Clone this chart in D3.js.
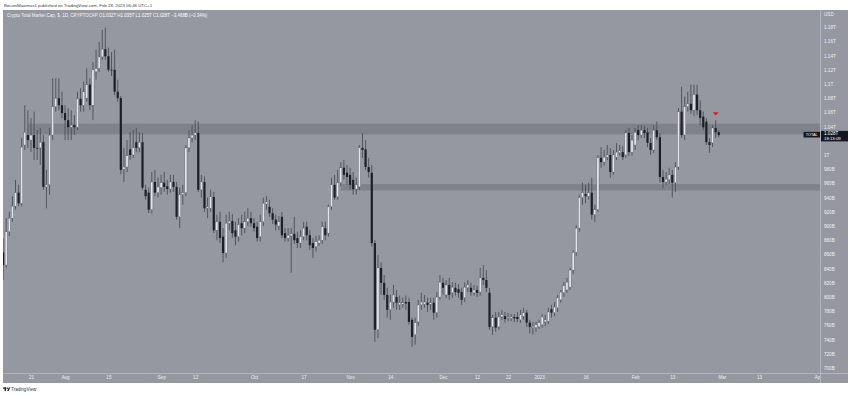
<!DOCTYPE html>
<html><head><meta charset="utf-8">
<script src="https://cdn.jsdelivr.net/npm/d3@7"></script>
<style>html,body{margin:0;padding:0;background:#fff;}svg{display:block;font-family:"Liberation Sans",Arial,sans-serif;}</style>
</head><body><svg id="c" width="850" height="396"></svg>
<script>
// ---- data (billions USD), daily candles from 2022-07-12 ----
const startDate = "2022-07-12";
const opens = [
863,845,892,911,928,947,932,1014,1028,1021,
1028,1010,1010,1018,955,958,1028,1068,1080,1070,
1059,1049,1039,1042,1039,1079,1070,1080,1099,1070,
1117,1122,1138,1149,1139,1120,1120,1089,1080,980,
983,1008,1000,1018,1010,1018,951,947,923,962,
947,954,961,956,952,962,955,913,944,947,
1010,1024,1028,1031,951,962,925,925,941,894,
906,885,862,904,907,894,885,904,897,906,
911,904,899,885,906,931,927,918,909,900,
913,890,883,886,889,883,876,885,899,887,
876,871,876,880,897,890,927,958,941,961,
982,975,972,965,952,955,1010,1008,983,975,
876,754,841,820,803,782,793,800,789,790,
793,793,768,747,765,789,790,792,790,792,
778,800,820,803,817,806,813,811,807,799,
813,813,806,810,807,827,824,806,758,771,
758,772,773,771,770,772,772,768,773,778,
764,757,757,758,761,765,766,783,778,785,
796,806,810,814,838,863,897,940,945,942,
947,916,923,996,990,997,1000,976,997,1003,
1004,1000,1031,1004,1014,1035,1028,1035,1032,1017,
1007,1035,1025,969,962,965,972,961,983,1061,
1028,1068,1072,1063,1085,1063,1054,1047,1018,1017,
1038,1032];
const highs = [
883,911,920,942,965,958,1024,1070,1063,1052,
1061,1035,1038,1028,979,1038,1108,1108,1108,1089,
1070,1066,1063,1056,1089,1094,1103,1122,1108,1131,
1148,1159,1176,1179,1151,1145,1148,1106,1083,1010,
1021,1032,1035,1038,1032,1031,958,954,976,979,
968,972,976,965,972,972,962,954,958,1014,
1035,1042,1049,1047,972,970,940,951,948,916,
920,897,916,920,917,906,911,916,920,925,
920,911,906,916,940,942,937,925,916,914,
920,897,897,897,913,892,894,906,906,894,
883,886,887,906,906,930,968,972,979,990,
993,986,982,976,968,1014,1031,1021,996,986,
880,859,849,831,813,803,817,810,802,799,
802,799,771,771,796,806,803,799,799,799,
807,831,827,824,827,821,820,818,813,821,
824,820,817,816,841,845,838,813,775,779,
779,782,779,778,776,776,779,782,785,782,
768,765,765,768,776,775,785,789,793,803,
810,821,827,841,866,901,944,961,958,961,
968,930,1000,1011,1007,1014,1010,1007,1017,1014,
1013,1035,1038,1028,1038,1042,1042,1041,1038,1024,
1042,1047,1031,979,976,982,979,990,1066,1096,
1082,1089,1099,1099,1099,1077,1061,1052,1024,1042,
1049,1035];
const lows = [
824,841,886,906,923,928,928,1007,1010,1004,
993,993,986,951,925,944,1021,1061,1063,1052,
1021,1021,1021,1028,1035,1061,1061,1075,1063,1049,
1106,1117,1134,1134,1117,1111,1084,1075,973,962,
976,993,996,1004,1004,951,937,918,918,942,
940,944,948,944,947,948,909,897,930,942,
1004,1018,1021,948,940,920,911,920,890,880,
876,849,855,894,883,873,878,887,890,900,
899,892,878,878,900,923,913,903,894,894,
883,878,878,834,875,869,869,880,880,866,
855,864,872,875,880,885,923,937,937,956,
965,958,951,944,944,951,996,979,968,871,
737,742,803,796,771,768,785,782,782,785,
782,761,730,733,759,782,785,779,782,768,
771,796,803,799,796,799,802,799,789,793,
807,802,802,800,802,817,807,754,747,751,
754,768,764,766,766,765,765,764,768,758,
749,747,751,755,757,759,762,771,773,779,
792,800,806,810,832,858,892,930,932,937,
909,906,920,982,985,993,968,972,993,999,
993,996,999,999,1007,1021,1024,1024,1011,1000,
1003,1021,961,953,958,959,940,948,979,1024,
1021,1061,1058,1055,1056,1042,1035,1014,1003,1011,
1024,1025];
const closes = [
845,892,911,928,947,932,1011,1032,1021,1028,
1010,1009,1018,955,958,1028,1068,1080,1070,1059,
1049,1039,1042,1039,1079,1070,1089,1099,1070,1120,
1122,1138,1149,1139,1120,1119,1089,1080,979,983,
999,1000,1010,1010,1018,954,942,923,962,947,
955,961,955,952,962,955,913,944,947,1010,
1024,1028,1031,951,962,925,927,941,894,906,
883,862,904,907,890,885,902,897,906,911,
904,897,883,906,932,934,918,909,902,906,
887,883,887,889,880,876,885,897,887,873,
869,878,880,899,887,927,958,940,961,982,
972,969,958,952,958,1010,1007,983,976,876,
754,841,820,803,782,793,803,792,792,792,
791,765,744,764,789,793,793,789,792,778,
800,821,813,817,803,814,807,806,796,814,
817,807,810,806,827,824,813,758,771,757,
772,775,769,772,772,770,769,775,778,764,
758,759,761,764,772,768,779,778,786,799,
807,816,821,838,863,897,940,947,942,947,
916,923,996,990,997,1000,976,1000,1004,1006,
997,1031,1004,1021,1032,1028,1035,1031,1017,1007,
1035,1025,969,962,966,972,961,983,1061,1028,
1068,1072,1063,1085,1063,1052,1039,1018,1014,1038,
1032,1028];

const timeTickDates = ["2022-07-21","2022-08-01","2022-08-15","2022-09-01","2022-09-12","2022-10-01","2022-10-17","2022-11-01","2022-11-14","2022-12-01","2022-12-12","2022-12-22","2023-01-01","2023-01-16","2023-02-01","2023-02-13","2023-03-01","2023-03-13","2023-04-01"];
const timeTickLabels = ["21","Aug","15","Sep","12","Oct","17","Nov","14","Dec","12","22","2023","16","Feb","13","Mar","13","Apr"];
const priceTicks = [700,720,740,760,780,800,820,840,860,880,900,920,940,960,980,1000,1040,1060,1080,1100,1120,1140,1160,1180];
const zoneStarts = ["2022-07-20","2022-10-29"];
const zoneLows = [1029,950];
const zoneHighs = [1044,959];
const markerDates = ["2023-02-27"];
const markerPrices = [1058];
const lastPriceText = "1.028T";
const countdownText = "18:13:09";
const headerText = "BitcoinMaximus1 published on TradingView.com, Feb 28, 2023 06:46 UTC+1";
const legendText = "Crypto Total Market Cap, $, 1D, CRYPTOCAP";
const ohlcLabels = ["O","H","L","C"];
const ohlcValues = ["1.032T","1.035T","1.025T","1.028T"];
const changeText = "\u22123.468B (\u22120.34%)";

// ---- layout ----
const svg = d3.select("#c");
const pane = {x0:3, x1:820, y0:10, y1:373};
const parse = d3.utcParse("%Y-%m-%d");
const start = parse(startDate);
const dates = opens.map((_, i) => d3.utcDay.offset(start, i));

const x = d3.scaleUtc().domain([start, parse("2023-04-01")]).range([3.1, 817.9]);
const y = d3.scaleLinear().domain([700, 1180]).range([368.1, 27.1]);

// background
svg.append("rect").attr("x",3).attr("y",10).attr("width",845).attr("height",373).attr("fill","#9598a1");

const defs = svg.append("defs");
defs.append("clipPath").attr("id","plot").append("rect")
  .attr("x",pane.x0).attr("y",pane.y0).attr("width",pane.x1-pane.x0).attr("height",pane.y1-pane.y0);
defs.append("clipPath").attr("id","taxis").append("rect")
  .attr("x",pane.x0).attr("y",pane.y1).attr("width",pane.x1-pane.x0).attr("height",12);

const plot = svg.append("g").attr("clip-path","url(#plot)");

// zones
plot.selectAll("rect.zone").data(zoneStarts).join("rect").attr("class","zone")
  .attr("x", d => x(parse(d)))
  .attr("width", d => pane.x1 - x(parse(d)))
  .attr("y", (d,i) => y(zoneHighs[i]))
  .attr("height", (d,i) => y(zoneLows[i]) - y(zoneHighs[i]))
  .attr("fill","#7f828b");

// candles
const candles = plot.selectAll("g.c").data(dates).join("g").attr("class","c");
candles.append("line")
  .attr("x1", d => x(d)).attr("x2", d => x(d))
  .attr("y1", (d,i) => y(highs[i])).attr("y2", (d,i) => y(lows[i]))
  .attr("stroke","#4b4e58").attr("stroke-width",0.9);
candles.append("rect")
  .attr("x", d => x(d) - 1.1).attr("width", 2.2)
  .attr("y", (d,i) => y(Math.max(opens[i], closes[i])))
  .attr("height", (d,i) => Math.max(0.8, Math.abs(y(opens[i]) - y(closes[i]))))
  .attr("fill", (d,i) => closes[i] >= opens[i] ? "#e3e5eb" : "#1c1f28")
  .attr("stroke", (d,i) => closes[i] >= opens[i] ? "#5b5e68" : "none")
  .attr("stroke-width", 0.4);

// marker (down arrow)
plot.selectAll("path.mk").data(markerDates).join("path").attr("class","mk")
  .attr("d", (d,i) => {
    const cx = x(parse(d)), cy = y(markerPrices[i]);
    return `M${cx-3},${cy-1.5} L${cx+3},${cy-1.5} L${cx},${cy+1.8} Z`;
  })
  .attr("fill","#ff1010");

// separators
svg.append("line").attr("x1",820.5).attr("x2",820.5).attr("y1",10).attr("y2",383).attr("stroke","#b8bbc3").attr("stroke-width",0.8);
svg.append("line").attr("x1",3).attr("x2",848).attr("y1",373.5).attr("y2",373.5).attr("stroke","#b8bbc3").attr("stroke-width",0.8);

// price axis
const fmtPrice = v => v >= 1000 ? (+(v/1000).toFixed(3)) + "T" : v + "B";
const yAxis = svg.append("g").attr("transform","translate(821,0)")
  .call(d3.axisRight(y).tickValues(priceTicks).tickFormat(fmtPrice).tickSize(0).tickPadding(3));
yAxis.select(".domain").remove();
yAxis.selectAll("text").attr("fill","#eef0f4").attr("font-size","4.6px").attr("font-family","Liberation Sans, Arial, sans-serif");
svg.append("text").attr("x",824).attr("y",16.2).text("USD").attr("fill","#eef0f4").attr("font-size","4.6px");

// time axis (wrapper holds the clip in page coordinates)
const tDates = timeTickDates.map(parse);
const xAxisWrap = svg.append("g").attr("clip-path","url(#taxis)");
const xAxis = xAxisWrap.append("g").attr("transform",`translate(0,${pane.y1})`)
  .call(d3.axisBottom(x).tickValues(tDates).tickFormat((d,i) => timeTickLabels[i]).tickSize(0).tickPadding(2.5));
xAxis.select(".domain").remove();
xAxis.selectAll("text").attr("fill","#eef0f4").attr("font-size","4.6px").attr("font-family","Liberation Sans, Arial, sans-serif");

// last price labels
const lastY = y(closes[closes.length-1]);
svg.append("rect").attr("x",803.5).attr("y",lastY-3.2).attr("width",16.5).attr("height",5.6).attr("fill","#131722");
svg.append("text").attr("x",811.8).attr("y",lastY+1.2).attr("text-anchor","middle").text("TOTAL")
  .attr("fill","#ffffff").attr("font-size","3.8px");
svg.append("rect").attr("x",821).attr("y",lastY-4.2).attr("width",27).attr("height",10.5).attr("fill","#131722");
svg.append("text").attr("x",824).attr("y",lastY+0.4).text(lastPriceText).attr("fill","#ffffff").attr("font-size","4.6px");
svg.append("text").attr("x",824).attr("y",lastY+5.2).text(countdownText).attr("fill","#ffffff").attr("font-size","4.3px");

// header
svg.append("text").attr("x",4).attr("y",6.6).text(headerText).attr("fill","#3a3a3a").attr("font-size","4.35px");
const leg = svg.append("text").attr("x",7).attr("y",17.2).attr("font-size","4.45px").attr("fill","#f4f5f7");
leg.append("tspan").text(legendText + "  ");
ohlcLabels.forEach((l,i) => {
  leg.append("tspan").text(l).attr("fill","#f4f5f7");
  leg.append("tspan").text(ohlcValues[i] + " ").attr("fill","#ffffff");
});
leg.append("tspan").text(" " + changeText).attr("fill","#ffffff");

// footer logo
const logo = svg.append("g").attr("transform","translate(3,387.5)");
logo.append("rect").attr("x",0).attr("y",0).attr("width",3.2).attr("height",1.2).attr("fill","#131722");
logo.append("rect").attr("x",1.6).attr("y",0).attr("width",1.3).attr("height",3.6).attr("fill","#131722");
logo.append("circle").attr("cx",4.3).attr("cy",0.8).attr("r",0.75).attr("fill","#131722");
logo.append("path").attr("d","M4.2,3.6 L5.8,0 L7.2,0 L5.6,3.6 Z").attr("fill","#131722");
svg.append("text").attr("x",11).attr("y",391.2).text("TradingView").attr("fill","#333").attr("font-size","4.6px");
</script></body></html>
